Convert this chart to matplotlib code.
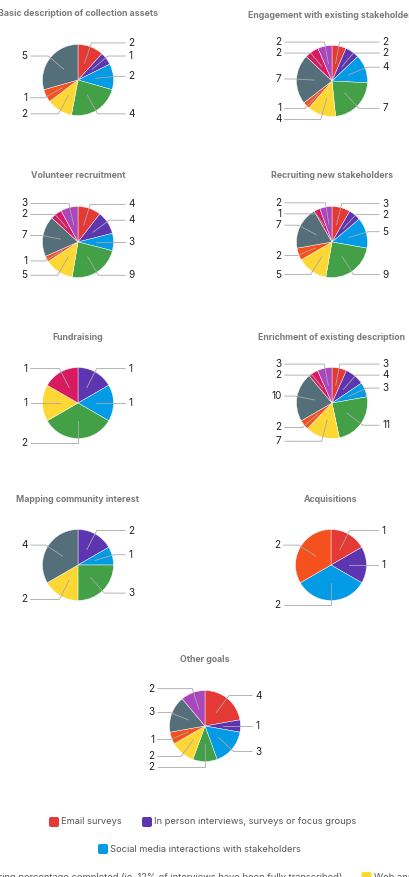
import numpy as np
import matplotlib.pyplot as plt
from matplotlib.patches import FancyBboxPatch

plt.rcParams['font.family'] = ['Inter', 'DejaVu Sans']

# Categories (clockwise order) and colours
categories = [
    "Email surveys",
    "In person interviews, surveys or focus groups",
    "Social media interactions with stakeholders",
    "Monitoring percentage completed (ie. 12% of interviews have been fully transcribed)",
    "Web analytics",
    "Other",
    "Other 2",
    "Other 3",
    "Other 4",
]
colors = ["#e53935", "#5e35b1", "#039be5", "#43a047", "#fdd835",
          "#f4511e", "#546e7a", "#d81b60", "#ab47bc"]

# Counts per goal, one value per category
basic_description = [2, 1, 2, 4, 2, 1, 5, 0, 0]
engagement = [2, 2, 4, 7, 4, 1, 7, 2, 2]
volunteer = [4, 4, 3, 9, 5, 1, 7, 2, 3]
recruiting = [3, 2, 5, 9, 5, 2, 7, 1, 2]
fundraising = [0, 1, 1, 2, 1, 0, 0, 1, 0]
enrichment = [3, 4, 3, 11, 7, 2, 10, 2, 3]
mapping = [0, 2, 1, 3, 2, 0, 4, 0, 0]
acquisitions = [1, 1, 2, 0, 0, 2, 0, 0, 0]
other_goals = [4, 1, 3, 2, 2, 1, 3, 0, 2]

charts = [
    ("Basic description of collection assets", basic_description),
    ("Engagement with existing stakeholders", engagement),
    ("Volunteer recruitment", volunteer),
    ("Recruiting new stakeholders", recruiting),
    ("Fundraising", fundraising),
    ("Enrichment of existing description", enrichment),
    ("Mapping community interest", mapping),
    ("Acquisitions", acquisitions),
    ("Other goals", other_goals),
]

W, H = 410, 877
R = 35.5  # pie radius in pixels
centers = [(78, 80), (332, 81), (78, 242), (332, 242), (78, 403),
           (332, 403), (78, 565), (331, 565), (205, 726)]

fig = plt.figure(figsize=(W / 100, H / 100), dpi=100)


def add_pie(cx, cy, title, values):
    aw, ah = 200, 160
    ax = fig.add_axes([(cx - aw / 2) / W, 1 - (cy + ah / 2) / H, aw / W, ah / H])
    vals = [v for v in values if v > 0]
    cols = [c for v, c in zip(values, colors) if v > 0]
    ax.pie(vals, colors=cols, startangle=90, counterclock=False, radius=1,
           wedgeprops=dict(linewidth=0.3, edgecolor="white"))
    ax.set_aspect("auto")
    ax.set_xlim(-aw / 2 / R, aw / 2 / R)
    ax.set_ylim(-ah / 2 / R, ah / 2 / R)
    ax.axis("off")
    ax.text(0, 66 / R, title, ha="center", va="center", fontsize=6.3,
            fontweight="bold", color="#7a7a7a", clip_on=False)

    # label positions
    total = sum(vals)
    cum = np.cumsum([0] + vals)
    mids = 90 - (cum[:-1] + np.array(vals) / 2) / total * 360
    th = np.radians(mids)
    sides = {True: [], False: []}
    for i, t in enumerate(th):
        sides[bool(np.cos(t) > 1e-9)].append([i, 1.12 * np.sin(t)])
    for right, items in sides.items():
        items.sort(key=lambda it: -it[1])
        for k in range(1, len(items)):
            if items[k - 1][1] - items[k][1] < 0.31:
                items[k][1] = items[k - 1][1] - 0.31
        for i, ly in items:
            t = th[i]
            sx = 1 if right else -1
            xs = [0.5 * np.cos(t), 1.05 * np.cos(t), sx * 1.33]
            ys = [0.5 * np.sin(t), ly, ly]
            ax.plot(xs, ys, color="#a8a8a8", lw=0.6, clip_on=False)
            ax.text(sx * 1.42, ly, str(vals[i]), ha="left" if right else "right",
                    va="center", fontsize=7.2, color="#222222", clip_on=False)


for (title, values), (cx, cy) in zip(charts, centers):
    add_pie(cx, cy, title, values)

# Legend in pixel coordinates
lg = fig.add_axes([0, 0, 1, 1])
lg.set_xlim(0, W)
lg.set_ylim(H, 0)
lg.axis("off")

legend_rows = [
    (822, [(54, 0), (147, 1)]),
    (849, [(103, 2)]),
]
for y, items in legend_rows:
    for x, idx in items:
        lg.add_patch(FancyBboxPatch((x - 5, y - 5), 10, 10,
                                    boxstyle="round,pad=0,rounding_size=2",
                                    facecolor=colors[idx], edgecolor="none"))
        lg.text(x + 7.5, y, categories[idx], ha="left", va="center",
                fontsize=6.7, color="#555555")

# third row runs off the edges of the picture
lg.text(342, 877, categories[3], ha="right", va="center",
        fontsize=6.7, color="#555555")
lg.add_patch(FancyBboxPatch((361.5, 872), 10, 10,
                            boxstyle="round,pad=0,rounding_size=2",
                            facecolor=colors[4], edgecolor="none"))
lg.text(374, 877, categories[4], ha="left", va="center",
        fontsize=6.7, color="#555555")

fig.savefig("out.png", dpi=100)
